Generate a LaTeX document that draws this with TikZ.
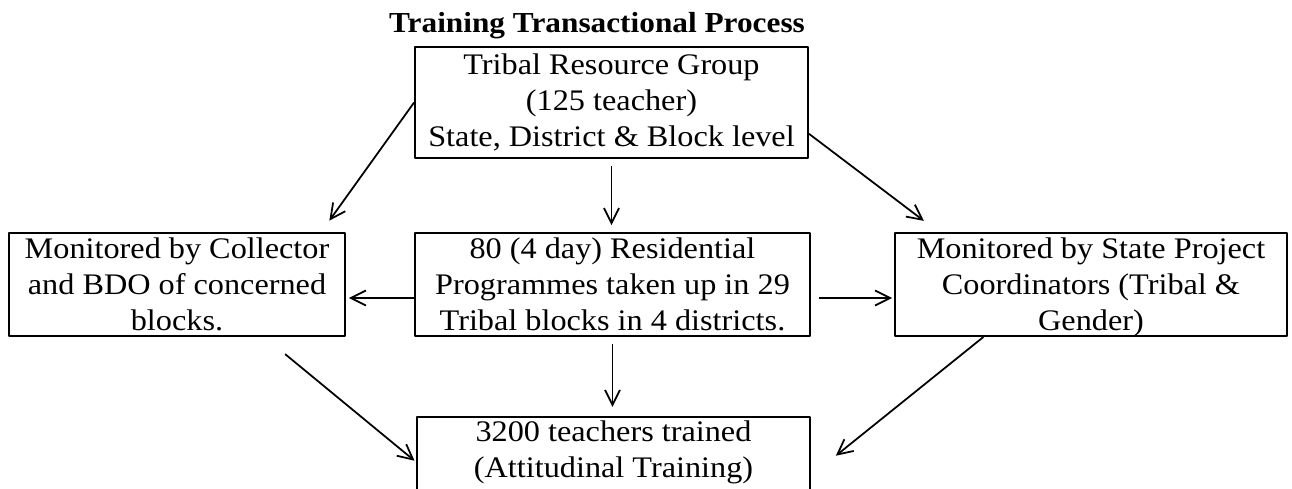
\documentclass[tikz,border=0pt]{standalone}
\usepackage{fontspec}
\setmainfont{Liberation Serif}[FakeStretch=1.08]
\usetikzlibrary{arrows.meta}
\tikzset{fig/.style={line join=round,>={Straight Barb[length=3mm,width=3mm]}},
  box/.style={draw,line width=1.1pt,align=center,inner sep=0pt,minimum height=2.06cm},
  link/.style={->,line width=1pt}}

\begin{document}
\begin{tikzpicture}[fig,x=0.02cm,y=-0.02cm,font=\fontsize{17}{20.5}\selectfont]
  \clip(0,0)rectangle(1292,489);
  \node[anchor=base,font=\fontsize{16.5}{20}\selectfont\bfseries](title)at(597,33){Training Transactional Process};
  \node[box,minimum width=7.86cm,minimum height=2.22cm](trg)at(611.5,102.5){Tribal Resource Group\\(125 teacher)\\State, District \& Block level};
  \node[box,minimum width=6.72cm](col)at(177,284.5){Monitored by Collector\\and BDO of concerned\\blocks.};
  \node[box,minimum width=7.9cm](res)at(612.5,284.5){80 (4 day) Residential\\Programmes taken up in 29\\Tribal blocks in 4 districts.};
  \node[box,minimum width=7.84cm](spc)at(1091,284.5){Monitored by State Project\\Coordinators (Tribal \&\\Gender\smash{)}};
  \node[box,minimum width=7.86cm,minimum height=2.22cm](trn)at(613.5,472.35){3200 teachers trained\\(Attitudinal Training)\\\strut};
  % monitoring on both sides
  \draw[link,shorten >=0.28cm](trg.west)--(col.20.7);
  \draw[link,shorten >=0.37cm](trg.-9.7)--(spc.161.2);
  \draw[link,shorten <=0.14cm,shorten >=0.14cm](trg.south)--(trg.south|-res.north);
  \draw[link,shorten >=0.06cm]([yshift=-0.27cm]res.west)--([yshift=-0.27cm]col.east);
  \draw[link,shorten <=0.16cm,shorten >=0.04cm]([yshift=-0.27cm]res.east)--([yshift=-0.27cm]spc.west);
  % down to the trained teachers
  \draw[link,shorten <=0.14cm,shorten >=0.18cm](res.south)--(res.south|-trn.north);
  \draw[link,shorten <=0.54cm,shorten >=0.04cm](col.-31.2)--(trn.177.2);
  \draw[link,shorten >=0.64cm](spc.-154.3)--(trn.-1.9);
\end{tikzpicture}
\end{document}
